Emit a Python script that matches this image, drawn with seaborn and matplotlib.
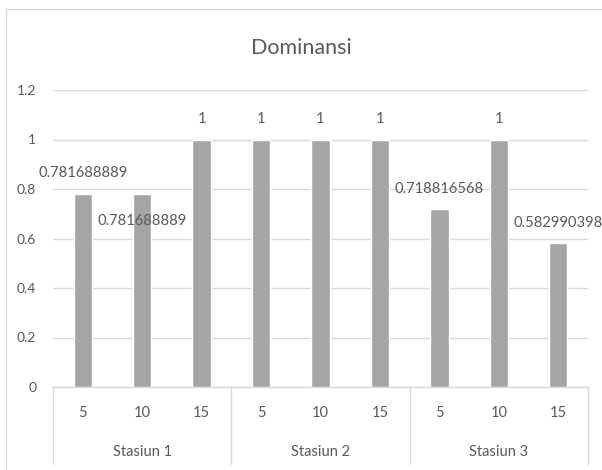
import matplotlib
matplotlib.use("Agg")
import matplotlib.pyplot as plt
import matplotlib.transforms as mtransforms
from matplotlib.patches import Rectangle
import seaborn as sns
import pandas as pd

# Dominance index per station and depth
stations = ["Stasiun 1", "Stasiun 1", "Stasiun 1",
            "Stasiun 2", "Stasiun 2", "Stasiun 2",
            "Stasiun 3", "Stasiun 3", "Stasiun 3"]
depths = ["5", "10", "15", "5", "10", "15", "5", "10", "15"]
dominansi = [0.781688889, 0.781688889, 1, 1, 1, 1, 0.718816568, 1, 0.582990398]
value_labels = ["0.781688889", "0.781688889", "1", "1", "1", "1",
                "0.718816568", "1", "0.582990398"]
group_names = ["Stasiun 1", "Stasiun 2", "Stasiun 3"]
y_ticks = [0, 0.2, 0.4, 0.6, 0.8, 1, 1.2]
y_tick_labels = ["0", "0.2", "0.4", "0.6", "0.8", "1", "1.2"]

df = pd.DataFrame({
    "key": [f"{s}|{d}" for s, d in zip(stations, depths)],
    "station": stations,
    "depth": depths,
    "value": dominansi,
})

sns.set_theme(style="white")
plt.rcParams["font.family"] = ["Lato", "DejaVu Sans"]

TEXT = "#595959"
GRID = "#d9d9d9"
BAR = "#a5a5a5"

fig = plt.figure(figsize=(6.02, 4.70), dpi=100)
ax = fig.add_axes([53 / 602, 1 - 387 / 470, (588 - 53) / 602, (387 - 90) / 470])

sns.barplot(data=df, x="key", y="value", color=BAR, width=0.31,
            saturation=1, ax=ax, zorder=3)

ax.set_ylim(0, 1.2)
ax.set_xlim(-0.5, len(dominansi) - 0.5)
ax.set_yticks(y_ticks)
ax.set_yticklabels(y_tick_labels, color=TEXT, fontsize=10)
ax.tick_params(axis="y", length=0, pad=12)
ax.set_xticks([])
ax.set_xlabel("")
ax.set_ylabel("")
for side in ["top", "right", "left"]:
    ax.spines[side].set_visible(False)
ax.spines["bottom"].set_color(GRID)
ax.spines["bottom"].set_linewidth(1)
ax.yaxis.grid(True, color=GRID, linewidth=1, zorder=0)
ax.set_axisbelow(True)

# Data labels above each bar; the second one sits lower to avoid overlapping
offsets = [14.5, -20, 14.5, 14.5, 14.5, 14.5, 14.5, 14.5, 14.5]
for i, (v, lab) in enumerate(zip(dominansi, value_labels)):
    ax.annotate(lab, xy=(i, v), xytext=(0, offsets[i]), textcoords="offset points",
                ha="center", va="center", color=TEXT, fontsize=10.6,
                annotation_clip=False, zorder=5)

# Two-level category axis: depths and station groups
trans = mtransforms.blended_transform_factory(ax.transData, ax.transAxes)
for i, d in enumerate(depths):
    ax.text(i, -0.087, d, transform=trans, ha="center", va="center",
            color=TEXT, fontsize=10.5)
n_groups = len(group_names)
per_group = len(depths) // n_groups
for g, name in enumerate(group_names):
    center = g * per_group + (per_group - 1) / 2
    ax.text(center, -0.22, name, transform=trans, ha="center", va="center",
            color=TEXT, fontsize=10.5)
for g in range(n_groups + 1):
    xb = g * per_group - 0.5
    ax.plot([xb, xb], [0, -0.26], transform=trans, color=GRID,
            linewidth=1, clip_on=False)

fig.text(301 / 602, 1 - 48 / 470, "Dominansi", ha="center", va="center",
         color=TEXT, fontsize=15.5)

# Chart area frame
fig.add_artist(Rectangle((6 / 602, -0.2), 1.2, 1 - 9 / 470 + 0.2,
                         transform=fig.transFigure, fill=False,
                         edgecolor=GRID, linewidth=1, clip_on=False))

fig.savefig("out.png", dpi=100, facecolor="white")
